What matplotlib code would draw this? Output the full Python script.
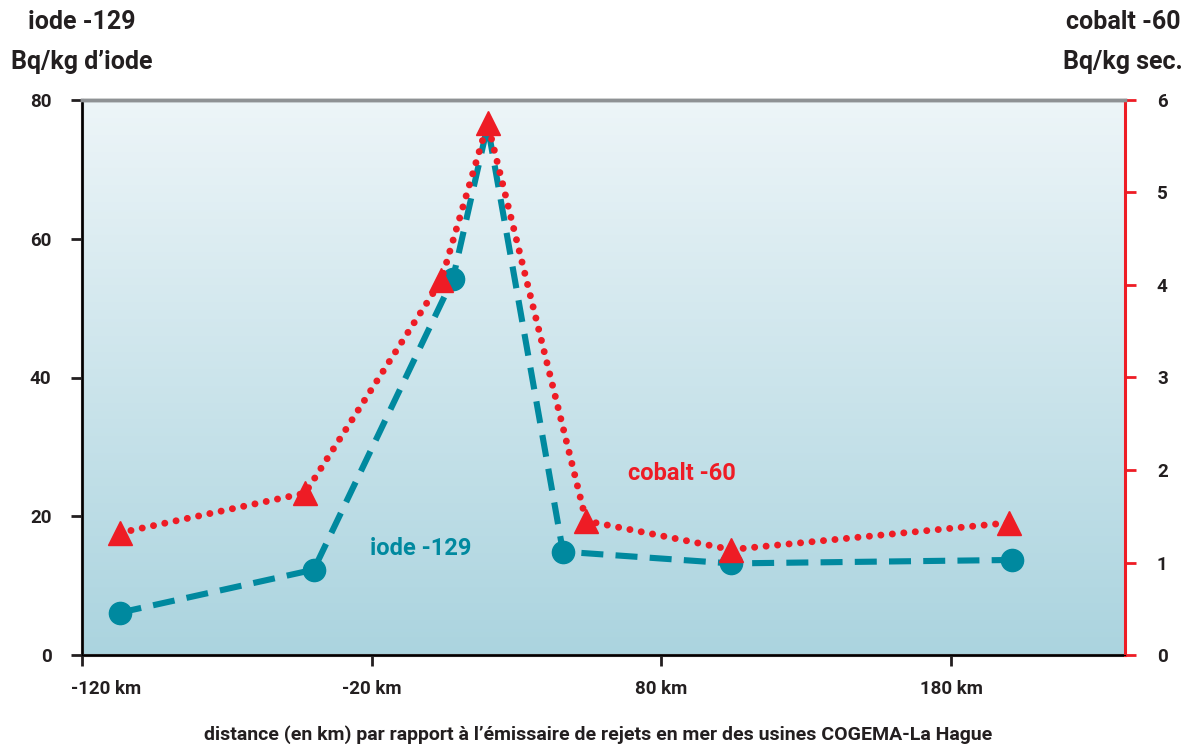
import numpy as np
import matplotlib
matplotlib.use("Agg")
import matplotlib.pyplot as plt
import matplotlib.transforms as mtransforms

iode_km    = [-107, -40, 8, 20, 46, 104, 201]
iode_bq    = [6.1, 12.3, 54.2, 76.3, 14.9, 13.2, 13.7]
cobalt_km  = [-107, -43, 4, 20, 54, 104, 200]
cobalt_bq  = [1.32, 1.75, 4.05, 5.75, 1.45, 1.14, 1.43]

x_ticks      = [-120, -20, 80, 180]
x_ticklabels = ['-120 km', '-20 km', '80 km', '180 km']
left_ticks   = [0, 20, 40, 60, 80]
right_ticks  = [0, 1, 2, 3, 4, 5, 6]

TEAL  = '#00899f'
RED   = '#ee1c25'
DARK  = '#231f20'

plt.rcParams['font.family'] = ['Roboto', 'DejaVu Sans']
plt.rcParams['font.weight'] = 'bold'

fig = plt.figure(figsize=(11.86, 7.44), dpi=100)
ax = fig.add_axes([82/1186, 1 - 655/744, (1125-82)/1186, (655-100)/744])
ax2 = ax.twinx()

# background gradient
top = np.array([237, 245, 248]) / 255
bot = np.array([171, 212, 223]) / 255
t = np.linspace(0, 1, 256)[:, None]
grad = (top * (1 - t) + bot * t)[:, None, :]
ax.imshow(grad, extent=[0, 1, 0, 1], transform=ax.transAxes, aspect='auto', zorder=0)

# the peak point has no visible marker of its own (hidden under the triangle)
ax.plot(iode_km, iode_bq, color=TEAL, lw=4.4, linestyle=(0, (3.6, 2.0)),
        marker='o', markersize=16, markevery=[0, 1, 2, 4, 5, 6], zorder=3)
ax2.plot(cobalt_km, cobalt_bq, color=RED, lw=5, linestyle=(0, (0.01, 1.65)),
         dash_capstyle='round', marker='^', markersize=17, zorder=3)

ax.set_xlim(-120, 240)
ax.set_ylim(0, 80)
ax2.set_ylim(0, 6)

ax.set_xticks(x_ticks)
ax.set_xticklabels(x_ticklabels)
ax.set_yticks(left_ticks)
ax2.set_yticks(right_ticks)

for s in ['left', 'bottom']:
    ax.spines[s].set_color(DARK)
    ax.spines[s].set_linewidth(2.2)
for a in (ax, ax2):
    a.spines['top'].set_color('#8e9194')
    a.spines['top'].set_linewidth(2.5)
ax2.spines['right'].set_color(RED)
ax2.spines['right'].set_linewidth(2.2)
ax.spines['right'].set_visible(False)

ax.tick_params(axis='both', direction='out', length=8, width=2, color=DARK,
               labelsize=13.5, labelcolor=DARK)
ax.tick_params(axis='x', pad=10)
ax.tick_params(axis='y', pad=14)
ax2.tick_params(axis='y', which='major', right=True, direction='out', length=8, width=2,
                color=RED, labelsize=13.5, labelcolor=DARK, pad=15)

# first x label is shifted to the right in the original
lbl = ax.get_xticklabels()[0]
lbl.set_horizontalalignment('left')
lbl.set_transform(lbl.get_transform() + mtransforms.ScaledTranslation(-11/100, 0, fig.dpi_scale_trans))

# axis titles
fig.text(82/1186, 1 - 22/744, 'iode -129', ha='center', va='center', fontsize=18, color=DARK)
fig.text(82/1186, 1 - 62/744, 'Bq/kg d\u2019iode', ha='center', va='center', fontsize=18, color=DARK)
fig.text(1123/1186, 1 - 22/744, 'cobalt -60', ha='center', va='center', fontsize=18, color=DARK)
fig.text(1123/1186, 1 - 62/744, 'Bq/kg sec.', ha='center', va='center', fontsize=18, color=DARK)

# series labels
ax.text(-3, 15.4, 'iode -129', color=TEAL, fontsize=17, ha='center', va='center')
ax.text(87, 26.2, 'cobalt -60', color=RED, fontsize=17, ha='center', va='center')

fig.text(598/1186, 1 - 735/744,
         'distance (en km) par rapport \u00e0 l\u2019\u00e9missaire de rejets en mer des usines COGEMA-La Hague',
         ha='center', va='center', fontsize=14, color=DARK)

fig.savefig('out.png', dpi=100)
